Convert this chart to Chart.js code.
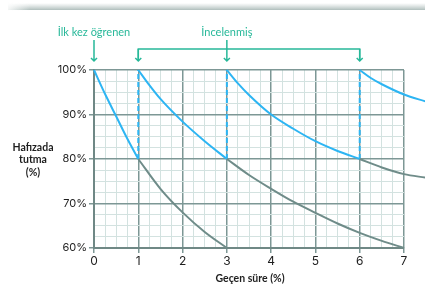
<!DOCTYPE html>
<html lang="tr">
<head>
<meta charset="UTF-8">
<title>Hafızada tutma</title>
<style>
  body { margin: 0; background: #fff; }
  canvas { display: block; }
</style>
</head>
<body>
<canvas id="chart" width="425" height="289"></canvas>
<script src="https://cdn.jsdelivr.net/npm/chart.js@4/dist/chart.umd.min.js"></script>
<script>
// ilk öğrenme eğrisi
const learnX = [0, 0.25, 0.5, 0.75, 1]
const learnY = [100, 94.6, 89.6, 84.6, 80]
// tekrar yapılmazsa unutma (gri)
const forget1X = [1, 1.5, 2, 2.5, 3]
const forget1Y = [80, 73.3, 68, 63.6, 60]
const forget2X = [3, 3.5, 4, 4.5, 5, 5.5, 6, 6.5, 7]
const forget2Y = [80, 76.4, 73.3, 70.4, 67.9, 65.5, 63.4, 61.6, 60]
const forget3X = [6, 6.5, 7, 7.5]
const forget3Y = [80, 78.1, 76.6, 75.8]
// tekrarlar (mavi)
const review1X = [1, 1.25, 1.5, 2, 2.5, 3]
const review1Y = [100, 96.6, 93.5, 88.4, 84, 80]
const review2X = [3, 3.25, 3.5, 4, 4.5, 5, 5.5, 6]
const review2Y = [100, 97, 94.4, 90, 86.8, 84, 81.8, 80]
const review3X = [6, 6.25, 6.5, 7, 7.5]
const review3Y = [100, 98.2, 96.8, 94.5, 92.9]
// tekrar anları
const reviewTimes = [1, 3, 6]

const xTicks = [0, 1, 2, 3, 4, 5, 6, 7]
const yTicks = [60, 70, 80, 90, 100]

const BLUE = '#2db5f3'
const GREY = '#6f8c89'
const TEAL = '#27b899'
const MAJOR = '#7d9795'
const MINOR = '#d3e2e0'

const pts = (xs, ys) => xs.map((x, i) => ({ x: x, y: ys[i] }))

const curve = (xs, ys, color) => ({
  data: pts(xs, ys),
  borderColor: color,
  borderWidth: 2,
  pointRadius: 0,
  cubicInterpolationMode: 'monotone',
  clip: false
})

const datasets = [
  curve(forget1X, forget1Y, GREY),
  curve(forget2X, forget2Y, GREY),
  curve(forget3X, forget3Y, GREY),
  curve(learnX, learnY, BLUE),
  curve(review1X, review1Y, BLUE),
  curve(review2X, review2Y, BLUE),
  curve(review3X, review3Y, BLUE)
]
for (const t of reviewTimes) {
  datasets.push({
    data: [{ x: t, y: 80 }, { x: t, y: 100 }],
    borderColor: BLUE,
    borderWidth: 2,
    borderDash: [5, 3],
    pointRadius: 0,
    clip: false
  })
}

const isMajor = (v, step) => Math.abs(v / step - Math.round(v / step)) < 1e-6

// başlıklar, oklar ve üstteki gölge
const extras = {
  id: 'extras',
  beforeDraw(chart) {
    const c = chart.ctx
    c.save()
    const g = c.createLinearGradient(0, 3, 0, 10)
    g.addColorStop(0, 'rgba(190,202,200,0)')
    g.addColorStop(1, 'rgba(175,190,188,1)')
    c.fillStyle = g
    c.fillRect(8, 3, 417, 7)
    const h = c.createLinearGradient(4, 0, 30, 0)
    h.addColorStop(0, 'rgba(255,255,255,1)')
    h.addColorStop(1, 'rgba(255,255,255,0)')
    c.fillStyle = h
    c.fillRect(4, 2, 26, 9)
    c.restore()
  },
  afterDraw(chart) {
    const c = chart.ctx
    const xs = chart.scales.x
    c.save()
    c.fillStyle = '#1e1e1e'
    c.font = 'bold 10.5px Lato'
    c.textAlign = 'center'
    c.textBaseline = 'middle'
    c.fillText('Hafızada', 33, 148)
    c.fillText('tutma', 33, 160)
    c.fillText('(%)', 33, 173)
    c.fillText('Geçen süre (%)', 250, 279)

    c.fillStyle = TEAL
    c.font = '11px Lato'
    const x0 = xs.getPixelForValue(0)
    const px = reviewTimes.map(t => xs.getPixelForValue(t))
    const mid = xs.getPixelForValue(3)
    c.fillText('İlk kez öğrenen', x0, 32)
    c.fillText('İncelenmiş', mid, 32)

    c.strokeStyle = TEAL
    c.lineWidth = 1.5
    const arrow = (x, y1, y2) => {
      c.beginPath()
      c.moveTo(x, y1)
      c.lineTo(x, y2)
      c.moveTo(x - 3, y2 - 3)
      c.lineTo(x, y2)
      c.lineTo(x + 3, y2 - 3)
      c.stroke()
    }
    arrow(x0, 40, 61)
    arrow(mid, 40, 61)
    c.beginPath()
    c.moveTo(px[0], 61)
    c.lineTo(px[0], 49)
    c.lineTo(px[2], 49)
    c.lineTo(px[2], 61)
    c.stroke()
    arrow(px[0], 49, 61)
    arrow(px[2], 49, 61)
    c.restore()
  }
}

new Chart(document.getElementById('chart'), {
  type: 'line',
  data: { datasets: datasets },
  plugins: [extras],
  options: {
    responsive: false,
    animation: false,
    layout: { padding: { top: 70, right: 21, left: 0, bottom: 0 } },
    plugins: { legend: { display: false }, tooltip: { enabled: false } },
    scales: {
      x: {
        type: 'linear',
        min: 0,
        afterDataLimits(s) { s.max = xTicks[xTicks.length - 1] },
        afterFit(s) { s.height = 41 },
        ticks: {
          stepSize: 0.25,
          autoSkip: false,
          maxRotation: 0,
          padding: 1,
          color: '#1e1e1e',
          font: { family: 'Inter', size: 12 },
          callback: v => xTicks.includes(v) ? String(v) : ''
        },
        grid: {
          tickLength: 5,
          color: c => isMajor(c.tick.value, 1) ? MAJOR : MINOR,
          lineWidth: c => isMajor(c.tick.value, 1) ? 1.5 : 1,
          tickColor: c => isMajor(c.tick.value, 1) ? MAJOR : 'rgba(0,0,0,0)'
        },
        border: { color: '#6f8885', width: 2 }
      },
      y: {
        min: 60,
        max: 100,
        afterFit(s) { s.width = 94 },
        ticks: {
          stepSize: 2.5,
          autoSkip: false,
          padding: 2,
          color: '#1e1e1e',
          font: { family: 'Inter', size: 11 },
          callback: v => yTicks.includes(v) ? v + '%' : ''
        },
        grid: {
          tickLength: 5,
          color: c => isMajor(c.tick.value, 10) ? MAJOR : MINOR,
          lineWidth: c => isMajor(c.tick.value, 10) ? 1.5 : 1,
          tickColor: c => isMajor(c.tick.value, 10) ? MAJOR : 'rgba(0,0,0,0)'
        },
        border: { color: '#6f8885', width: 2 }
      }
    }
  }
})
</script>
</body>
</html>
